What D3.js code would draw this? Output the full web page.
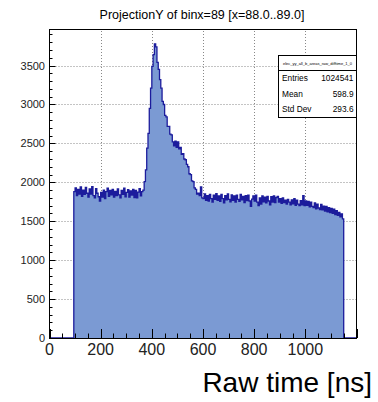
<!DOCTYPE html>
<html>
<head>
<meta charset="UTF-8">
<title>ProjectionY</title>
<script src="https://cdn.jsdelivr.net/npm/d3@7"></script>
<style>
    body { margin: 0; background: white; }
    text { font-family: "Liberation Sans", Arial, sans-serif; }
</style>
</head>
<body>
<svg id="chart" width="378" height="402"></svg>
<script>
// histogram settings
const binLow = 95;
const binWidth = 5;

// counts per bin, 95 .. 1150 ns
const countsFlat = [1880, 1930, 1830, 1910, 1850, 1940, 1820, 1900, 1845, 1935,
    1860, 1810, 1915, 1850, 1945, 1830, 1800, 1920, 1860, 1815,
    1760, 1870, 1810, 1900, 1790, 1880, 1925, 1820, 1895, 1840,
    1910, 1810, 1885, 1830, 1915, 1840, 1800, 1895, 1845, 1925,
    1815, 1870, 1905, 1810, 1890, 1835, 1910, 1805, 1895, 1800,
    1875, 1920, 1825, 1880];
const countsPeak = [1900, 2010, 2160, 2440, 2630, 2950, 3210, 3490, 3640, 3780,
    3740, 3540, 3450, 3320, 3210, 3040, 3000, 2860, 2840, 2720,
    2720, 2620, 2610, 2520, 2470, 2530, 2450, 2520, 2430, 2450,
    2360, 2370, 2300, 2290, 2230, 2200, 2110, 2100, 2020, 2010,
    1930, 1910, 1850, 1860, 1830, 1940, 1800];
const countsTail = [1790, 1850, 1770, 1830, 1760, 1845, 1790, 1745, 1835, 1780,
    1855, 1770, 1825, 1755, 1845, 1790, 1735, 1830, 1775, 1850,
    1780, 1750, 1840, 1770, 1825, 1745, 1835, 1780, 1755, 1845,
    1775, 1820, 1740, 1830, 1765, 1835, 1760, 1690, 1785, 1825,
    1760, 1835, 1745, 1700, 1800, 1720, 1825, 1750, 1810, 1735,
    1820, 1760, 1710, 1815, 1745, 1825, 1740, 1805, 1820, 1745,
    1790, 1730, 1800, 1740, 1770, 1720, 1780, 1745, 1710, 1775,
    1725, 1790, 1705, 1770, 1720, 1700, 1765, 1710, 1830, 1700];
const countsEnd = [1760, 1705, 1755, 1685, 1745, 1690, 1675, 1735, 1660, 1720,
    1670, 1650, 1715, 1645, 1695, 1630, 1690, 1620, 1675, 1610,
    1665, 1600, 1655, 1585, 1635, 1575, 1615, 1555, 1595, 1530];

const xTicks = [0, 200, 400, 600, 800, 1000];
const yTicks = [0, 500, 1000, 1500, 2000, 2500, 3000, 3500];
const statsLabels = ["Entries", "Mean", "Std Dev"];
const statsValues = ["1024541", "598.9", "293.6"];

const counts = countsFlat.concat(countsPeak, countsTail, countsEnd);
const bins = counts.map((c, i) => ({ x0: binLow + i * binWidth, x1: binLow + (i + 1) * binWidth, y: c }));

const svg = d3.select("#chart");
const margin = { top: 29, right: 21.5, bottom: 64, left: 49.5 };
const width = 378 - margin.left - margin.right;
const height = 402 - margin.top - margin.bottom;

const x = d3.scaleLinear().domain([0, 1200]).range([margin.left, margin.left + width]);
const y = d3.scaleLinear().domain([0, 3970]).range([margin.top + height, margin.top]);

// grid
const grid = svg.append("g").attr("stroke", "#888").attr("stroke-dasharray", "1,2").attr("stroke-width", 1);
xTicks.filter(d => d > 0).forEach(d => {
    grid.append("line").attr("x1", Math.round(x(d)) + 0.5).attr("x2", Math.round(x(d)) + 0.5)
        .attr("y1", y.range()[0]).attr("y2", y.range()[1]);
});
yTicks.filter(d => d > 0).forEach(d => {
    grid.append("line").attr("y1", Math.round(y(d)) + 0.5).attr("y2", Math.round(y(d)) + 0.5)
        .attr("x1", x.range()[0]).attr("x2", x.range()[1]);
});

// step outline of the histogram, zero outside the filled range
const pts = [[0, 0], [binLow, 0]];
bins.forEach(b => { pts.push([b.x0, b.y]); pts.push([b.x1, b.y]); });
pts.push([bins[bins.length - 1].x1, 0]);
pts.push([1200, 0]);

const area = d3.area().x(d => x(d[0])).y0(y(0)).y1(d => y(d[1]));
const line = d3.line().x(d => x(d[0])).y(d => y(d[1]));

svg.append("path").datum(pts).attr("fill", "#7b9ad3").attr("d", area);
svg.append("path").datum(pts)
    .attr("fill", "none")
    .attr("stroke", "#1c1c9c")
    .attr("stroke-width", 1.3)
    .attr("d", line);

// frame
svg.append("rect")
    .attr("x", margin.left).attr("y", margin.top + 0.5)
    .attr("width", width).attr("height", height)
    .attr("fill", "none").attr("stroke", "black").attr("stroke-width", 1);

// x axis ticks (inside, pointing up)
const xAxis = svg.append("g").attr("stroke", "black").attr("stroke-width", 1);
d3.range(0, 1201, 50).forEach(d => {
    const len = d % 200 === 0 ? 9 : 4.5;
    const px = Math.round(x(d)) + 0.5;
    xAxis.append("line").attr("x1", px).attr("x2", px).attr("y1", y(0)).attr("y2", y(0) - len);
});
svg.append("g").selectAll("text").data(xTicks).join("text")
    .attr("x", d => x(d)).attr("y", 355)
    .attr("text-anchor", "middle")
    .attr("font-size", 16)
    .attr("fill", "#222")
    .text(d => d);

// y axis ticks (inside, pointing right)
const yAxis = svg.append("g").attr("stroke", "black").attr("stroke-width", 1);
d3.range(0, 3901, 100).forEach(d => {
    const len = d % 500 === 0 ? 6 : 3;
    const py = Math.round(y(d)) + 0.5;
    yAxis.append("line").attr("x1", x(0)).attr("x2", x(0) + len).attr("y1", py).attr("y2", py);
});
svg.append("g").selectAll("text").data(yTicks).join("text")
    .attr("x", 45).attr("y", d => y(d) + 4)
    .attr("text-anchor", "end")
    .attr("font-size", 11)
    .attr("fill", "#222")
    .text(d => d);

// titles
svg.append("text")
    .attr("x", 202).attr("y", 19)
    .attr("text-anchor", "middle")
    .attr("font-size", 12.5)
    .text("ProjectionY of binx=89 [x=88.0..89.0]");

svg.append("text")
    .attr("x", 372).attr("y", 391.5)
    .attr("text-anchor", "end")
    .attr("font-size", 28)
    .text("Raw time [ns]");

// stats box
const stats = svg.append("g");
stats.append("rect")
    .attr("x", 278.5).attr("y", 55.5).attr("width", 78).attr("height", 62)
    .attr("fill", "white").attr("stroke", "black").attr("stroke-width", 1);
stats.append("line")
    .attr("x1", 278.5).attr("x2", 356.5).attr("y1", 70.5).attr("y2", 70.5)
    .attr("stroke", "black");
stats.append("text")
    .attr("x", 317.5).attr("y", 64.5)
    .attr("text-anchor", "middle")
    .attr("font-size", 4)
    .text("elec_yy_all_b_areas_raw_difftime_1_0");
statsLabels.forEach((lab, i) => {
    const ty = 81 + i * 15.7;
    stats.append("text").attr("x", 282).attr("y", ty).attr("font-size", 8.3).text(lab);
    stats.append("text").attr("x", 353.5).attr("y", ty).attr("font-size", 8.3)
        .attr("text-anchor", "end").text(statsValues[i]);
});
</script>
</body>
</html>
